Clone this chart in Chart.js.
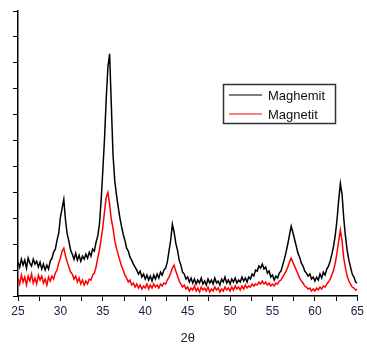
<!DOCTYPE html>
<html>
<head>
<meta charset="utf-8">
<script src="https://cdn.jsdelivr.net/npm/chart.js@4/dist/chart.umd.min.js"></script>
<style>
  body { margin: 0; background: #fff; }
  #wrap { width: 367px; height: 346px; position: relative; }
</style>
</head>
<body>
<div id="wrap"><canvas id="chart"></canvas></div>
<script>
// 2-theta sampling of the scan
const startAngle = 25;
const angleStep = 0.2;

// intensities (arbitrary units)
const maghemit = [
  34,29,37,31,36,28,38,33,30,37, 32,35,29,34,27,32,26,31,27,35,
  38,44,47,56,63,79,88,97,76,62, 55,46,42,37,43,36,41,35,40,37,
  42,38,44,40,47,45,54,60,72,96, 126,158,198,230,243,192,142,116,102,90,
  79,70,62,56,48,45,39,36,32,29, 26,22,25,19,22,17,21,16,20,15,
  21,17,22,18,24,21,26,28,34,45, 56,72,64,53,46,36,31,24,22,17,
  19,14,18,13,17,12,16,13,18,12, 15,11,17,13,16,12,18,13,15,11,
  17,14,19,13,16,12,17,14,18,13, 16,14,19,15,18,14,19,17,22,20,
  26,25,30,28,32,27,29,23,25,19, 21,16,20,18,23,25,31,37,44,52,
  61,70,64,57,50,43,39,33,30,25, 23,20,22,17,19,15,19,16,22,18,
  24,21,27,30,35,42,50,61,76,96, 113,102,78,60,46,36,29,22,19,14,
  13
];
const magnetit = [
  18,12,21,14,19,11,20,15,22,13, 18,12,21,16,20,13,17,11,19,15,
  20,17,23,26,33,38,45,48,40,34, 29,24,22,17,20,14,18,12,16,11,
  15,12,17,16,21,23,29,38,46,57, 69,85,99,104,92,77,68,56,48,42,
  36,30,26,21,18,14,16,11,13,9, 12,8,11,7,10,8,12,7,11,8,
  12,9,11,8,12,10,13,12,16,19, 23,28,31,25,20,15,12,9,11,7,
  9,5,8,6,10,5,8,4,9,6, 8,5,9,4,7,5,9,6,8,4,
  7,5,9,6,8,5,9,6,10,7, 9,6,10,7,11,8,10,9,12,10,
  12,11,14,12,15,12,14,11,13,10, 12,10,13,12,15,16,19,22,25,29,
  34,38,34,30,26,22,18,15,13,10, 9,7,8,5,7,5,8,6,9,7,
  10,9,12,14,17,21,26,33,43,55, 66,55,38,28,20,15,12,9,8,6,
  7
];

const seriesNames = ['Maghemit', 'Magnetit'];
const seriesColors = ['#000000', '#ff0000'];

function toPoints(values) {
  return values.map((v, i) => ({ x: startAngle + i * angleStep, y: v }));
}

const boxLegend = {
  id: 'boxLegend',
  afterDraw(chart) {
    const c = chart.ctx;
    c.save();
    c.strokeStyle = '#333';
    c.lineWidth = 1.5;
    c.strokeRect(223.5, 84.5, 112, 39);
    c.font = '13px "Liberation Sans", Arial, sans-serif';
    c.textBaseline = 'middle';
    const rows = [95, 114];
    for (let i = 0; i < seriesNames.length; i++) {
      c.strokeStyle = seriesColors[i];
      c.lineWidth = 1.2;
      c.beginPath();
      c.moveTo(229, rows[i]);
      c.lineTo(262, rows[i]);
      c.stroke();
      c.fillStyle = '#111';
      c.fillText(seriesNames[i], 268, rows[i] + 1);
    }
    c.restore();
  }
};

let ctx = document.getElementById('chart');
new Chart(ctx, {
  type: 'line',
  data: {
    datasets: [{
      label: seriesNames[0],
      data: toPoints(maghemit),
      borderColor: seriesColors[0],
      borderWidth: 1.5,
      pointRadius: 0,
      tension: 0,
      order: 1
    }, {
      label: seriesNames[1],
      data: toPoints(magnetit),
      borderColor: seriesColors[1],
      borderWidth: 1.5,
      pointRadius: 0,
      tension: 0,
      order: 0
    }]
  },
  options: {
    responsive: true,
    maintainAspectRatio: false,
    animation: false,
    layout: { padding: { left: 0, right: 8, top: 11, bottom: 0 } },
    plugins: { legend: { display: false }, tooltip: { enabled: false } },
    scales: {
      x: {
        type: 'linear',
        min: 25,
        max: 65,
        afterFit: s => { s.height = 50; },
        grid: { drawOnChartArea: false, drawTicks: true, tickLength: 5, color: '#000' },
        border: { display: true, color: '#000', width: 1.5 },
        ticks: {
          stepSize: 2.5,
          autoSkip: false,
          maxRotation: 0,
          padding: 3,
          color: '#1c1c40',
          font: { family: '"Liberation Sans", Arial, sans-serif', size: 12 },
          callback: v => (v % 5 === 0 ? v : '')
        },
        title: {
          display: true,
          text: '2θ',
          color: '#222',
          padding: { top: 6, bottom: 0 },
          font: { family: '"Liberation Sans", Arial, sans-serif', size: 13 }
        }
      },
      y: {
        min: 0,
        max: 286,
        afterFit: s => { s.width = 18; },
        grid: { drawOnChartArea: false, drawTicks: true, tickLength: 5, color: '#000' },
        border: { display: true, color: '#000', width: 1.5 },
        ticks: { stepSize: 26, callback: () => '' }
      }
    }
  },
  plugins: [boxLegend]
});
</script>
</body>
</html>
